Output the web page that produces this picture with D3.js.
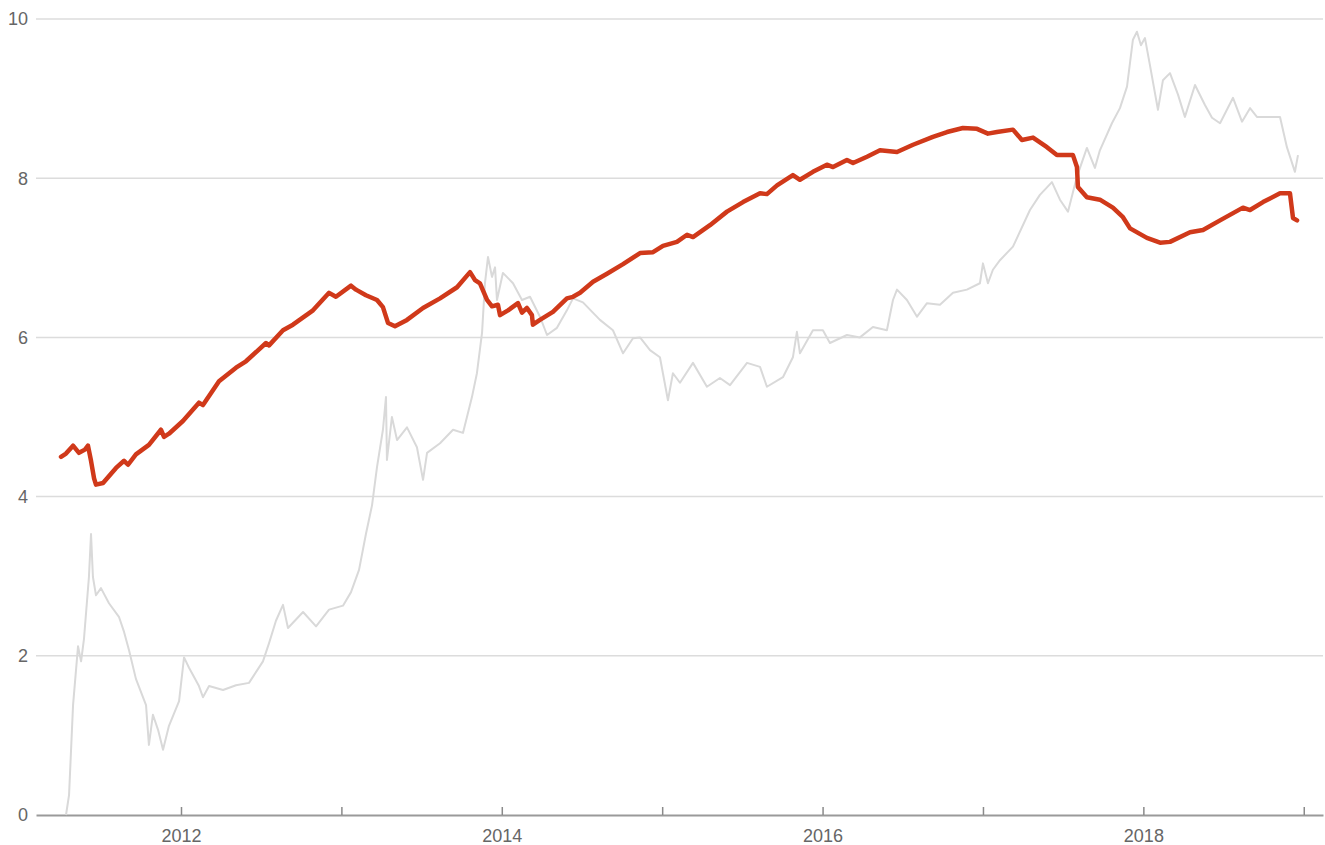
<!DOCTYPE html>
<html>
<head>
<meta charset="utf-8">
<script src="https://cdn.jsdelivr.net/npm/d3@7"></script>
<style>
  html, body { margin: 0; padding: 0; background: #fff; }
  svg { display: block; font-family: "Liberation Sans", Arial, Helvetica, sans-serif; }
</style>
</head>
<body>
<svg id="chart" width="1325" height="845"></svg>
<script>
// ---- data (decimal years, values) ----
const grayYears = [2011.283,2011.302,2011.327,2011.358,2011.377,2011.395,2011.426,2011.439,2011.451,2011.470,2011.501,2011.551,2011.613,2011.645,2011.676,2011.719,2011.782,2011.800,2011.825,2011.857,2011.888,2011.925,2011.988,2012.019,2012.050,2012.112,2012.137,2012.175,2012.262,2012.343,2012.424,2012.511,2012.549,2012.592,2012.636,2012.667,2012.761,2012.842,2012.923,2013.010,2013.060,2013.110,2013.153,2013.191,2013.222,2013.259,2013.278,2013.284,2013.315,2013.347,2013.409,2013.471,2013.509,2013.534,2013.615,2013.696,2013.758,2013.814,2013.845,2013.877,2013.895,2013.914,2013.939,2013.958,2013.970,2014.007,2014.070,2014.126,2014.176,2014.238,2014.282,2014.344,2014.406,2014.444,2014.506,2014.612,2014.693,2014.756,2014.818,2014.862,2014.924,2014.986,2015.036,2015.067,2015.111,2015.192,2015.279,2015.360,2015.423,2015.529,2015.610,2015.653,2015.753,2015.815,2015.840,2015.859,2015.940,2016.002,2016.046,2016.152,2016.233,2016.314,2016.401,2016.439,2016.464,2016.526,2016.589,2016.651,2016.732,2016.813,2016.900,2016.981,2017.000,2017.031,2017.062,2017.106,2017.187,2017.293,2017.355,2017.430,2017.480,2017.530,2017.586,2017.648,2017.698,2017.729,2017.804,2017.854,2017.898,2017.935,2017.960,2017.985,2018.010,2018.041,2018.091,2018.122,2018.166,2018.216,2018.259,2018.322,2018.384,2018.428,2018.478,2018.559,2018.615,2018.665,2018.708,2018.789,2018.852,2018.895,2018.945,2018.964];
const grayValues = [0.00,0.25,1.38,2.12,1.93,2.21,2.99,3.53,2.99,2.76,2.85,2.66,2.49,2.30,2.07,1.71,1.38,0.88,1.26,1.07,0.82,1.12,1.43,1.98,1.85,1.62,1.48,1.62,1.57,1.63,1.66,1.93,2.16,2.44,2.64,2.35,2.55,2.37,2.58,2.63,2.80,3.08,3.53,3.89,4.37,4.84,5.25,4.46,5.00,4.71,4.87,4.62,4.21,4.55,4.67,4.84,4.80,5.25,5.55,6.06,6.68,7.01,6.76,6.88,6.47,6.81,6.68,6.47,6.51,6.26,6.03,6.12,6.34,6.49,6.44,6.22,6.09,5.80,5.99,6.00,5.84,5.75,5.21,5.55,5.43,5.68,5.38,5.49,5.40,5.68,5.63,5.38,5.50,5.75,6.07,5.80,6.09,6.09,5.93,6.03,6.00,6.13,6.09,6.47,6.60,6.47,6.26,6.43,6.41,6.56,6.60,6.68,6.93,6.68,6.85,6.97,7.14,7.60,7.79,7.95,7.73,7.58,8.02,8.38,8.13,8.35,8.69,8.88,9.15,9.74,9.84,9.67,9.76,9.42,8.86,9.23,9.32,9.05,8.77,9.17,8.92,8.76,8.69,9.01,8.71,8.88,8.77,8.77,8.77,8.39,8.08,8.29];

const redYears = [2011.252,2011.283,2011.327,2011.364,2011.401,2011.420,2011.439,2011.458,2011.470,2011.514,2011.595,2011.645,2011.670,2011.719,2011.800,2011.875,2011.894,2011.925,2012.012,2012.112,2012.137,2012.237,2012.343,2012.405,2012.530,2012.549,2012.636,2012.698,2012.823,2012.923,2012.966,2013.060,2013.091,2013.153,2013.222,2013.259,2013.291,2013.334,2013.409,2013.509,2013.615,2013.721,2013.802,2013.833,2013.864,2013.908,2013.939,2013.976,2013.989,2014.039,2014.101,2014.126,2014.157,2014.188,2014.194,2014.238,2014.319,2014.406,2014.444,2014.488,2014.569,2014.656,2014.756,2014.862,2014.943,2015.005,2015.092,2015.155,2015.192,2015.298,2015.404,2015.504,2015.610,2015.653,2015.716,2015.815,2015.859,2015.940,2016.027,2016.065,2016.152,2016.190,2016.277,2016.358,2016.464,2016.564,2016.688,2016.776,2016.875,2016.963,2017.031,2017.087,2017.187,2017.243,2017.312,2017.399,2017.461,2017.561,2017.586,2017.592,2017.648,2017.729,2017.810,2017.873,2017.917,2018.022,2018.104,2018.166,2018.291,2018.372,2018.478,2018.621,2018.665,2018.746,2018.852,2018.914,2018.933,2018.958];
const redValues = [4.50,4.54,4.64,4.55,4.59,4.64,4.45,4.23,4.15,4.17,4.36,4.45,4.40,4.53,4.65,4.84,4.75,4.79,4.95,5.18,5.15,5.45,5.62,5.70,5.93,5.90,6.09,6.16,6.34,6.56,6.51,6.65,6.60,6.53,6.47,6.38,6.18,6.14,6.22,6.37,6.49,6.63,6.82,6.72,6.68,6.47,6.39,6.41,6.28,6.34,6.43,6.31,6.37,6.28,6.16,6.22,6.32,6.49,6.51,6.56,6.70,6.80,6.92,7.06,7.07,7.15,7.20,7.29,7.26,7.41,7.58,7.70,7.81,7.80,7.91,8.04,7.98,8.08,8.17,8.14,8.23,8.19,8.27,8.35,8.33,8.42,8.52,8.58,8.63,8.62,8.56,8.58,8.61,8.48,8.51,8.39,8.29,8.29,8.14,7.89,7.76,7.73,7.63,7.51,7.37,7.25,7.19,7.20,7.32,7.35,7.47,7.63,7.60,7.70,7.81,7.81,7.50,7.47];

const yTicks = [0, 2, 4, 6, 8, 10];
const xTicks = [2012, 2013, 2014, 2015, 2016, 2017, 2018, 2019];
const xLabelYears = [2012, 2014, 2016, 2018];
const xDomain = [2011.096, 2019.12];
const yDomain = [0, 10];

// ---- drawing ----
(function () {
  const svg = d3.select("#chart");
  const mLeft = 36, mRight = 1323, mTop = 19, mBottom = 815;

  const x = d3.scaleLinear().domain(xDomain).range([mLeft, mRight]);
  const y = d3.scaleLinear().domain(yDomain).range([mBottom, mTop]);

  // gridlines
  svg.append("g")
    .selectAll("line")
    .data(yTicks.filter(d => d !== 0))
    .join("line")
    .attr("x1", mLeft).attr("x2", mRight)
    .attr("y1", d => y(d)).attr("y2", d => y(d))
    .attr("stroke", "#dcdcdc")
    .attr("stroke-width", 1.5);

  // y labels
  svg.append("g")
    .selectAll("text")
    .data(yTicks)
    .join("text")
    .attr("x", 28)
    .attr("y", d => y(d))
    .attr("dy", "0.35em")
    .attr("text-anchor", "end")
    .attr("fill", "#666")
    .attr("font-size", 18)
    .text(d => d);

  // x axis
  const xAxis = d3.axisBottom(x)
    .tickValues(xTicks)
    .tickSizeInner(-8)
    .tickSizeOuter(0)
    .tickPadding(14)
    .tickFormat(d => xLabelYears.includes(d) ? String(d) : "");

  const gx = svg.append("g")
    .attr("transform", `translate(0,${mBottom})`)
    .call(xAxis);
  gx.select(".domain").attr("stroke", "#9a9a9a").attr("stroke-width", 2);
  gx.selectAll(".tick line").attr("stroke", "#8a8a8a").attr("stroke-width", 1.5);
  gx.selectAll(".tick text")
    .attr("fill", "#666")
    .attr("font-size", 18)
    .attr("font-family", "\"Liberation Sans\", Arial, sans-serif");

  // lines
  const line = d3.line()
    .x(d => x(d[0]))
    .y(d => y(d[1]));

  const grayData = grayYears.map((t, i) => [t, grayValues[i]]);
  const redData = redYears.map((t, i) => [t, redValues[i]]);

  svg.append("path")
    .datum(grayData)
    .attr("fill", "none")
    .attr("stroke", "#d9d9d9")
    .attr("stroke-width", 2)
    .attr("stroke-linejoin", "round")
    .attr("d", line);

  svg.append("path")
    .datum(redData)
    .attr("fill", "none")
    .attr("stroke", "#d0391a")
    .attr("stroke-width", 4.5)
    .attr("stroke-linejoin", "round")
    .attr("stroke-linecap", "round")
    .attr("d", line);
})();
</script>
</body>
</html>
